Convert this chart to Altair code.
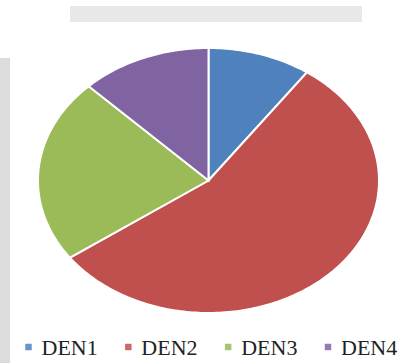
import math
import altair as alt
import pandas as pd

# --- data ---
categories = ["DEN1", "DEN2", "DEN3", "DEN4"]
values = [9.8, 55.3, 22.5, 12.4]
colors = ["#4F81BD", "#C0504D", "#9BBB59", "#8064A2"]

# build each slice as a closed polygon in unit (elliptical) coordinates
total = sum(values)
rows = []
start = 0.0
for cat, v in zip(categories, values):
    frac = v / total
    a0 = start * 2 * math.pi
    a1 = (start + frac) * 2 * math.pi
    n = max(3, int(frac * 360))
    rows.append({"cat": cat, "i": 0, "x": 0.0, "y": 0.0})
    for k in range(n + 1):
        a = a0 + (a1 - a0) * k / n
        rows.append({"cat": cat, "i": k + 1, "x": math.sin(a), "y": math.cos(a)})
    start += frac
df = pd.DataFrame(rows)
legend_df = pd.DataFrame({"cat": categories})

unit = alt.Scale(domain=[-1, 1], nice=False, zero=False)
color_scale = alt.Scale(domain=categories, range=colors)

pie = alt.Chart(df).mark_line(
    filled=True, stroke="white", strokeWidth=2, interpolate="linear-closed"
).encode(
    x=alt.X("x:Q", scale=unit, axis=None),
    y=alt.Y("y:Q", scale=unit, axis=None),
    color=alt.Color("cat:N", scale=color_scale, legend=None),
    order=alt.Order("i:Q"),
)

leg_x = alt.X("cat:N", scale=alt.Scale(domain=categories, range=[-9.5, 290], type="point", padding=0), axis=None)

leg_sym = alt.Chart(legend_df).mark_square(size=42, opacity=0.85).encode(
    x=leg_x,
    y=alt.value(299),
    color=alt.Color("cat:N", scale=color_scale, legend=None),
)
leg_txt = alt.Chart(legend_df).mark_text(
    align="left", baseline="middle", dx=13, dy=1,
    font="Liberation Serif", fontSize=22, color="#222222",
).encode(
    x=leg_x,
    y=alt.value(299),
    text="cat:N",
)

one = pd.DataFrame({"a": [0]})
left_strip = alt.Chart(one).mark_rect(color="#dcdcdc").encode(
    x=alt.value(-38), x2=alt.value(-28), y=alt.value(10), y2=alt.value(315)
)
top_band = alt.Chart(one).mark_rect(color="#e8e8e8").encode(
    x=alt.value(32), x2=alt.value(324), y=alt.value(-42), y2=alt.value(-26)
)

chart = alt.layer(left_strip, top_band, pie, leg_sym, leg_txt).resolve_scale(
    x="independent", y="independent"
).properties(
    width=341,
    height=265,
    padding={"left": 38, "top": 48, "right": 34, "bottom": 50},
    autosize="none",
    background="white",
).configure_view(stroke=None)

chart.save("out.html", embed_options={"renderer": "svg", "actions": False})
